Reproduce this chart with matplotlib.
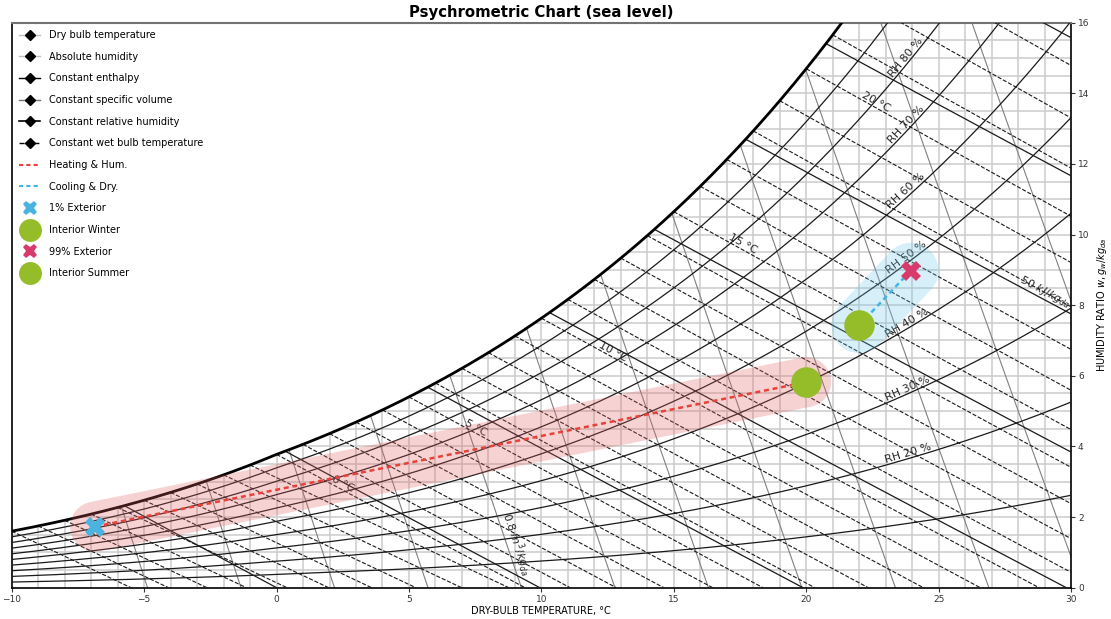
import numpy as np
import matplotlib
matplotlib.use('Agg')
import matplotlib.pyplot as plt
from matplotlib.lines import Line2D

# chart limits (dry bulb in C, humidity ratio in g/kg)
temp_range = [-10, 30]
humid_range = [0, 16]
pressure_kpa = 101.325

# families of curves drawn on the chart
rh_curves = [10, 20, 30, 40, 50, 60, 70, 80, 90]
rh_labels = [20, 30, 40, 50, 60, 70, 80]
rh_label_temp = [23.9, 23.9, 23.9, 23.9, 23.9, 23.9, 23.9]

enthalpy_curves = [-10, 0, 10, 20, 30, 40, 50, 60, 70]
enthalpy_label = 50
enthalpy_label_temp = 28.9

volume_curves = [0.76, 0.77, 0.78, 0.79, 0.80, 0.81, 0.82, 0.83, 0.84, 0.85, 0.86, 0.87]
volume_label = 0.8
volume_label_w = 1.15

wet_bulb_curves = list(range(-10, 31))
wet_bulb_labels = [0, 5, 10, 15, 20]
wet_bulb_label_temp = [2.4, 7.45, 12.6, 17.5, 22.55]

dry_bulb_lines = list(range(-9, 30))
humidity_lines = [0.5 * k for k in range(1, 32)]

# points: dry bulb (C), humidity ratio (g/kg)
point_names = ['1% Exterior', 'Interior Winter', '99% Exterior', 'Interior Summer']
point_temp = [-6.85, 20.0, 23.95, 22.0]
point_w = [1.73, 5.82, 8.98, 7.43]
point_marker = ['X', 'o', 'X', 'o']
point_color = ['#4ab3e0', '#95bd2a', '#d93a6c', '#95bd2a']
point_size = [14, 22, 14, 22]

# processes between points
process_names = ['Heating & Hum.', 'Cooling & Dry.']
process_start = [0, 2]
process_end = [1, 3]
process_color = ['#e8413a', '#3fb6e6']
hull_color = ['#e06060', '#6cc6ea']
hull_width = [36, 40]


def pws(t):
    # saturation pressure (kPa), ASHRAE Hyland-Wexler over ice/water
    tk = np.asarray(t, dtype=float) + 273.15
    ice = np.exp(-5.6745359e3 / tk + 6.3925247 - 9.677843e-3 * tk + 6.2215701e-7 * tk ** 2
                 + 2.0747825e-9 * tk ** 3 - 9.484024e-13 * tk ** 4 + 4.1635019 * np.log(tk))
    water = np.exp(-5.8002206e3 / tk + 1.3914993 - 4.8640239e-2 * tk + 4.1764768e-5 * tk ** 2
                   - 1.4452093e-8 * tk ** 3 + 6.5459673 * np.log(tk))
    return np.where(tk < 273.15, ice, water) / 1000.0


def w_sat(t):
    p = pws(t)
    return 621.945 * p / (pressure_kpa - p)


def w_rh(t, rh):
    p = rh / 100.0 * pws(t)
    return 621.945 * p / (pressure_kpa - p)


def w_enthalpy(t, h):
    return 1000.0 * (h - 1.006 * t) / (2501 + 1.86 * t)


def w_volume(t, v):
    return 1000.0 * (v * pressure_kpa / (0.287042 * (t + 273.15)) - 1) / 1.607858


def w_wet_bulb(t, twb):
    wss = w_sat(twb) / 1000.0
    if twb >= 0:
        w = ((2501 - 2.326 * twb) * wss - 1.006 * (t - twb)) / (2501 + 1.86 * t - 4.186 * twb)
    else:
        w = ((2830 - 0.24 * twb) * wss - 1.006 * (t - twb)) / (2830 + 1.86 * t - 2.1 * twb)
    return 1000.0 * w


tt = np.linspace(temp_range[0], temp_range[1], 8001)
ws_all = w_sat(tt)


def under_saturation(w):
    mask = (w <= ws_all + 1e-9) & (w >= 0)
    return tt[mask], w[mask]


fig = plt.figure(figsize=(11.11, 6.19), dpi=100)
ax = fig.add_axes([0.01053, 0.0506, 0.9535, 0.9128])
ax.set_xlim(temp_range)
ax.set_ylim(humid_range)

# constant dry bulb / humidity grid, only under the saturation curve
grid_kw = dict(color='0.8', lw=1.1, zorder=1)
for t in dry_bulb_lines:
    ax.plot([t, t], [0, w_sat(t)], **grid_kw)
for w in humidity_lines:
    t0 = np.interp(w, ws_all, tt)
    ax.plot([t0, temp_range[1]], [w, w], **grid_kw)

for v in volume_curves:
    x, y = under_saturation(w_volume(tt, v))
    ax.plot(x, y, color='0.5', lw=0.8, zorder=2)

for h in enthalpy_curves:
    x, y = under_saturation(w_enthalpy(tt, h))
    ax.plot(x, y, color='0.1', lw=0.9, zorder=3)

for twb in wet_bulb_curves:
    w = w_wet_bulb(tt, twb)
    mask = (tt >= twb) & (w >= 0)
    ax.plot(tt[mask], w[mask], color='0.1', lw=0.8, ls='--', zorder=3)

rh_data = {}
for rh in rh_curves:
    rh_data[rh] = w_rh(tt, rh)
    ax.plot(tt, rh_data[rh], color='0.1', lw=0.9, zorder=4)

ax.plot(tt, ws_all, color='k', lw=2, zorder=5)


def curve_label(xs, ys, x, text, by_y=False):
    if by_y:
        order = np.argsort(ys)
        y = x
        x = np.interp(y, ys[order], xs[order])
    else:
        y = np.interp(x, xs, ys)
    i = np.argmin(np.abs(xs - x) + np.abs(ys - y))
    j = min(i + 5, len(xs) - 1)
    i = max(j - 10, 0)
    p1 = ax.transData.transform((xs[i], ys[i]))
    p2 = ax.transData.transform((xs[j], ys[j]))
    ang = np.degrees(np.arctan2(p2[1] - p1[1], p2[0] - p1[0]))
    ax.text(x, y, text, rotation=ang, rotation_mode='anchor', ha='center', va='bottom',
            fontsize=8, color='0.15', zorder=6)


for rh, tl in zip(rh_labels, rh_label_temp):
    curve_label(tt, rh_data[rh], tl, 'RH %d %%' % rh)

for twb, tl in zip(wet_bulb_labels, wet_bulb_label_temp):
    w = w_wet_bulb(tt, twb)
    mask = (tt >= twb) & (w >= 0)
    curve_label(tt[mask], w[mask], tl, '%d °C' % twb)

x, y = under_saturation(w_enthalpy(tt, enthalpy_label))
curve_label(x, y, enthalpy_label_temp, '%d $kJ/kg_{da}$' % enthalpy_label)

x, y = under_saturation(w_volume(tt, volume_label))
curve_label(x, y, volume_label_w, '%g $m^3/kg_{da}$' % volume_label, by_y=True)

# processes with shaded envelopes
for k in range(len(process_names)):
    a, b = process_start[k], process_end[k]
    xs = [point_temp[a], point_temp[b]]
    ys = [point_w[a], point_w[b]]
    ax.plot(xs, ys, color=hull_color[k], alpha=0.28, lw=hull_width[k],
            solid_capstyle='round', zorder=7)
    ax.plot(xs, ys, color=process_color[k], lw=1.8, ls=(0, (2, 1.5)), zorder=8)

for k in range(len(point_names)):
    ax.plot(point_temp[k], point_w[k], marker=point_marker[k], color=point_color[k],
            ms=point_size[k], mew=0, ls='none', zorder=9)

ax.set_title('Psychrometric Chart (sea level)', fontsize=10.7, fontweight='bold', pad=4)
ax.set_xlabel('DRY-BULB TEMPERATURE, °C', fontsize=7, labelpad=2)
ax.yaxis.tick_right()
ax.yaxis.set_label_position('right')
ax.set_ylabel('HUMIDITY RATIO $w, g_w/kg_{da}$', fontsize=7, labelpad=4)
ax.set_xticks(range(-10, 31, 5))
ax.set_yticks(range(0, 17, 2))
ax.tick_params(axis='both', labelsize=6.5, direction='out', length=3, pad=2, colors='0.2')
for s in ['left', 'right', 'bottom']:
    ax.spines[s].set_linewidth(1.2)
    ax.spines[s].set_color('k')
ax.spines['top'].set_linewidth(1.5)
ax.spines['top'].set_color('0.45')

handles = [
    Line2D([0], [0], color='0.75', lw=1, marker='D', mfc='k', mec='k', ms=5),
    Line2D([0], [0], color='0.75', lw=1, marker='D', mfc='k', mec='k', ms=5),
    Line2D([0], [0], color='k', lw=1, marker='D', mfc='k', mec='k', ms=5),
    Line2D([0], [0], color='0.45', lw=1, marker='D', mfc='k', mec='k', ms=5),
    Line2D([0], [0], color='k', lw=1.2, marker='D', mfc='k', mec='k', ms=5),
    Line2D([0], [0], color='k', lw=1, ls='--', marker='D', mfc='k', mec='k', ms=5),
    Line2D([0], [0], color=process_color[0], lw=1.5, ls=(0, (2, 1.5))),
    Line2D([0], [0], color=process_color[1], lw=1.5, ls=(0, (2, 1.5))),
]
labels = ['Dry bulb temperature', 'Absolute humidity', 'Constant enthalpy',
          'Constant specific volume', 'Constant relative humidity',
          'Constant wet bulb temperature'] + process_names
for k in range(len(point_names)):
    handles.append(Line2D([0], [0], marker=point_marker[k], color=point_color[k],
                          ms=point_size[k] * 0.75, mew=0, ls='none'))
    labels.append(point_names[k])

ax.legend(handles, labels, loc='upper left', fontsize=7, frameon=False,
          labelspacing=1.2, handlelength=2.2, handletextpad=0.9,
          borderaxespad=0.35, bbox_to_anchor=(0.0, 1.0))

fig.savefig('out.png', dpi=100)
